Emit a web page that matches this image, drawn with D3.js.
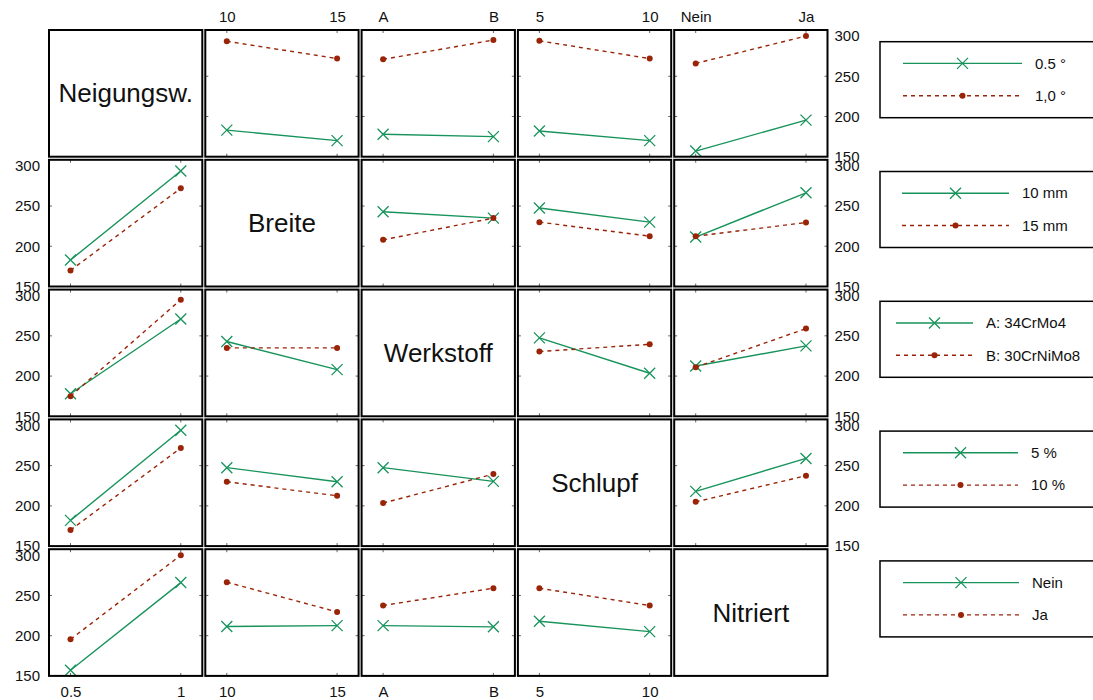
<!DOCTYPE html>
<html>
<head>
<meta charset="utf-8">
<script src="https://cdn.jsdelivr.net/npm/d3@7"></script>
<style>
  html, body { margin: 0; padding: 0; background: #fff; }
  svg { display: block; font-family: "Liberation Sans", Arial, Helvetica, sans-serif; }
</style>
</head>
<body>
<svg id="chart" width="1093" height="700"></svg>
<script>
// ---------------- data ----------------
const factors = ["Neigungsw.", "Breite", "Werkstoff", "Schlupf", "Nitriert"];
const levelTicks = [["0.5", "1"], ["10", "15"], ["A", "B"], ["5", "10"], ["Nein", "Ja"]];
const legendLabels = [["0.5 °", "1,0 °"], ["10 mm", "15 mm"], ["A: 34CrMo4", "B: 30CrNiMo8"], ["5 %", "10 %"], ["Nein", "Ja"]];
const yTicks = [150, 200, 250, 300];

// cell means: rows = levels of first factor, cols = levels of second factor
const meansNeigBreite        = [[183, 170], [293.5, 272]];
const meansNeigWerkstoff     = [[178, 175], [271, 295]];
const meansNeigSchlupf       = [[182, 170], [294, 272]];
const meansNeigNitriert      = [[157, 195.5], [266, 300]];
const meansBreiteWerkstoff   = [[243, 235], [208, 235]];
const meansBreiteSchlupf     = [[247.5, 230], [230, 212.5]];
const meansBreiteNitriert    = [[211.5, 266.5], [212.5, 229.5]];
const meansWerkstoffSchlupf  = [[247.5, 203.5], [230.5, 239.5]];
const meansWerkstoffNitriert = [[212.5, 237.5], [211, 259]];
const meansSchlupfNitriert   = [[218, 259], [205, 237.5]];

const pairMeans = {
  "0-1": meansNeigBreite, "0-2": meansNeigWerkstoff, "0-3": meansNeigSchlupf, "0-4": meansNeigNitriert,
  "1-2": meansBreiteWerkstoff, "1-3": meansBreiteSchlupf, "1-4": meansBreiteNitriert,
  "2-3": meansWerkstoffSchlupf, "2-4": meansWerkstoffNitriert,
  "3-4": meansSchlupfNitriert
};

// value for trace level a of factor r at x level b of factor c
function cellValue(r, c, a, b) {
  if (r < c) return pairMeans[r + "-" + c][a][b];
  return pairMeans[c + "-" + r][b][a];
}

// ---------------- layout ----------------
const panelLeft = 49, panelStep = 156.3, panelW = 153.3;
const panelTop = 30, rowStep = 129.8, panelH = 126.7;
const green = "#17935b", red = "#992408";
const font = "Liberation Sans, Arial, Helvetica, sans-serif";
const legendLeft = 880, legendH = 76;
const legendTextX = [1035, 1022, 986, 1031, 1032];
const legendLineStart = [903, 902, 896, 903, 903];

const svg = d3.select("#chart");
const n = factors.length;

const x = d3.scalePoint().domain([0, 1]).range([0, panelW]).padding(0.195);
const y = d3.scaleLinear().domain([150, 307.5]).range([panelH, 0]);

function xMarker(sel, size) {
  sel.append("path")
    .attr("d", `M${-size},${-size}L${size},${size}M${-size},${size}L${size},${-size}`)
    .attr("stroke", green).attr("stroke-width", 1.3).attr("fill", "none");
}

function styleAxis(ax) {
  ax.select(".domain").remove();
  ax.selectAll("text").attr("font-size", 15).attr("font-family", font).attr("fill", "#111");
}

for (let r = 0; r < n; r++) {
  for (let c = 0; c < n; c++) {
    const g = svg.append("g")
      .attr("transform", `translate(${panelLeft + c * panelStep},${panelTop + r * rowStep})`);

    if (r !== c) {
      // small inner ticks
      const tk = g.append("g").attr("stroke", "#666").attr("stroke-width", 1);
      [200, 250].forEach(v => {
        tk.append("line").attr("x1", 0).attr("x2", 3).attr("y1", y(v)).attr("y2", y(v));
        tk.append("line").attr("x1", panelW - 3).attr("x2", panelW).attr("y1", y(v)).attr("y2", y(v));
      });
      [0, 1].forEach(b => {
        tk.append("line").attr("x1", x(b)).attr("x2", x(b)).attr("y1", 0).attr("y2", 3);
        tk.append("line").attr("x1", x(b)).attr("x2", x(b)).attr("y1", panelH - 3).attr("y2", panelH);
      });

      const line = d3.line().x(d => x(d.b)).y(d => y(d.v));
      const series = [0, 1].map(a => [0, 1].map(b => ({ b, v: cellValue(r, c, a, b) })));

      // level 0: green solid with X markers
      g.append("path").datum(series[0]).attr("d", line)
        .attr("fill", "none").attr("stroke", green).attr("stroke-width", 1.4);
      series[0].forEach(d => {
        const m = g.append("g").attr("transform", `translate(${x(d.b)},${y(d.v)})`);
        xMarker(m, 5.5);
      });
      // level 1: red dashed with dots
      g.append("path").datum(series[1]).attr("d", line)
        .attr("fill", "none").attr("stroke", red).attr("stroke-width", 1.4)
        .attr("stroke-dasharray", "4,4");
      g.selectAll("circle.dot").data(series[1]).enter().append("circle")
        .attr("class", "dot")
        .attr("cx", d => x(d.b)).attr("cy", d => y(d.v)).attr("r", 3)
        .attr("fill", red);
    } else {
      g.append("text")
        .attr("x", panelW / 2).attr("y", panelH / 2)
        .attr("text-anchor", "middle").attr("dominant-baseline", "central")
        .attr("font-size", 26).attr("fill", "#111")
        .text(factors[r]);
    }

    g.append("rect").attr("x", 0).attr("y", 0).attr("width", panelW).attr("height", panelH)
      .attr("fill", "none").attr("stroke", "#000").attr("stroke-width", 2);

    // axes (labels only)
    const xa = d3.scalePoint().domain(levelTicks[c]).range([0, panelW]).padding(0.195);
    if (r === 0 && c > 0) {
      styleAxis(g.append("g").call(d3.axisTop(xa).tickSize(0).tickPadding(8)));
    }
    if (r === n - 1 && c < n - 1) {
      styleAxis(g.append("g").attr("transform", `translate(0,${panelH})`)
        .call(d3.axisBottom(xa).tickSize(0).tickPadding(10)));
    }
    if (c === 0 && r > 0) {
      styleAxis(g.append("g").call(d3.axisLeft(y).tickValues(yTicks).tickFormat(d3.format("d")).tickSize(0).tickPadding(9)));
    }
    if (c === n - 1 && r < n - 1) {
      styleAxis(g.append("g").attr("transform", `translate(${panelW},0)`)
        .call(d3.axisRight(y).tickValues(yTicks).tickFormat(d3.format("d")).tickSize(0).tickPadding(7)));
    }
  }
}

// ---------------- legends ----------------
for (let r = 0; r < n; r++) {
  const top = panelTop + r * rowStep + 11.7;
  const g = svg.append("g").attr("transform", `translate(0,${top})`);
  g.append("rect").attr("x", legendLeft).attr("y", 0).attr("width", 240).attr("height", legendH)
    .attr("fill", "#fff").attr("stroke", "#000").attr("stroke-width", 1.5);
  const x0 = legendLineStart[r], tx = legendTextX[r], x1 = tx - 13;
  const mid = (x0 + x1) / 2;
  const y0 = 21.7, y1 = 54;
  g.append("line").attr("x1", x0).attr("x2", x1).attr("y1", y0).attr("y2", y0)
    .attr("stroke", green).attr("stroke-width", 1.4);
  const m = g.append("g").attr("transform", `translate(${mid},${y0})`);
  xMarker(m, 5.5);
  g.append("line").attr("x1", x0).attr("x2", x1).attr("y1", y1).attr("y2", y1)
    .attr("stroke", red).attr("stroke-width", 1.4).attr("stroke-dasharray", "4,4");
  g.append("circle").attr("cx", mid).attr("cy", y1).attr("r", 3).attr("fill", red);
  [y0, y1].forEach((yy, i) => {
    g.append("text").attr("x", tx).attr("y", yy).attr("dy", "0.35em")
      .attr("font-size", 15).attr("fill", "#111").text(legendLabels[r][i]);
  });
}
</script>
</body>
</html>
